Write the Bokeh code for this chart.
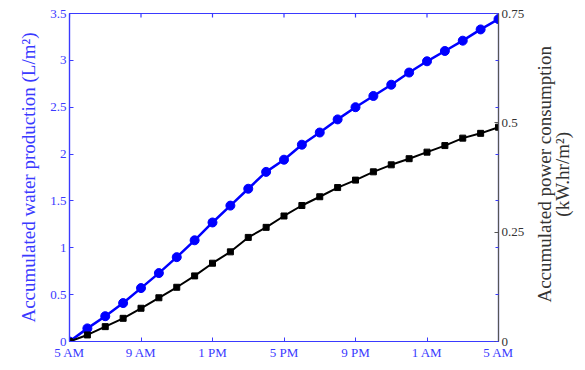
import math
from bokeh.plotting import figure
from bokeh.layouts import row
from bokeh.models import Range1d, LinearAxis, FixedTicker, ColumnDataSource
from bokeh.core.properties import value
from bokeh.embed import file_html
from bokeh.resources import INLINE

# ---- data ----
hours = list(range(25))  # hours after 5 AM
water = [0.00, 0.14, 0.27, 0.41, 0.57, 0.73, 0.90, 1.08, 1.27, 1.45,
         1.63, 1.81, 1.94, 2.10, 2.23, 2.37, 2.50, 2.62, 2.74, 2.87,
         2.99, 3.10, 3.21, 3.33, 3.44]
power = [0.000, 0.015, 0.034, 0.053, 0.076, 0.100, 0.124, 0.150, 0.179, 0.205,
         0.238, 0.261, 0.287, 0.311, 0.331, 0.352, 0.369, 0.388, 0.404, 0.418,
         0.433, 0.448, 0.465, 0.476, 0.490]
x_ticks = [0, 4, 8, 12, 16, 20, 24]
x_labels = ["5 AM", "9 AM", "1 PM", "5 PM", "9 PM", "1 AM", "5 AM"]
left_ticks = [0, 0.5, 1, 1.5, 2, 2.5, 3, 3.5]
left_labels = ["0", "0.5", "1", "1.5", "2", "2.5", "3", "3.5"]
right_ticks = [0, 0.25, 0.5, 0.75]
right_labels = ["0", "0.25", "0.5", "0.75"]
left_max = 3.5
right_max = 0.75
left_title = "Accumulated water production (L/m²)"
right_title = ["Accumulated power consumption", "(kW.hr/m²)"]

FONT = "Liberation Serif"
BLUE_AX = "#3a3aff"
TITLE_SIZE = "19px"

W, H = 528, 362          # main chart
W2 = 49                  # strip holding the right-hand title
BL, BR, BT, BB = 69, 30, 13, 20
p = figure(width=W, height=H, output_backend="svg", toolbar_location=None,
           x_range=Range1d(0, 24), y_range=Range1d(0, left_max),
           min_border_left=BL, min_border_right=BR, min_border_top=BT,
           min_border_bottom=BB)
p.extra_y_ranges = {"power": Range1d(0, right_max)}
p.grid.visible = False
p.outline_line_color = BLUE_AX
p.outline_line_width = 1.2
p.background_fill_color = "white"


def style(ax, color, label_color):
    ax.axis_line_color = color
    ax.axis_line_width = 1.2
    ax.major_tick_line_color = color
    ax.major_tick_in = 4
    ax.major_tick_out = 0
    ax.minor_tick_in = 0
    ax.minor_tick_out = 0
    ax.major_label_text_font = FONT
    ax.major_label_text_font_size = "13px"
    ax.major_label_text_color = label_color
    ax.major_label_standoff = 3
    ax.axis_label_text_font = FONT
    ax.axis_label_text_font_size = TITLE_SIZE
    ax.axis_label_text_font_style = "normal"


# bottom axis
xa = p.xaxis[0]
xa.ticker = FixedTicker(ticks=x_ticks)
xa.major_label_overrides = {t: l for t, l in zip(x_ticks, x_labels)}
style(xa, BLUE_AX, BLUE_AX)

# left axis
ya = p.yaxis[0]
ya.ticker = FixedTicker(ticks=left_ticks)
ya.major_label_overrides = {t: l for t, l in zip(left_ticks, left_labels)}
style(ya, BLUE_AX, BLUE_AX)
ya.axis_label = left_title
ya.axis_label_text_color = BLUE_AX
ya.axis_label_standoff = 8

# right axis
ra = LinearAxis(y_range_name="power",
                ticker=FixedTicker(ticks=right_ticks,
                                   minor_ticks=[v * right_max / left_max for v in left_ticks]))
style(ra, "#555555", "#333333")
ra.major_label_overrides = {t: l for t, l in zip(right_ticks, right_labels)}
ra.minor_tick_in = 3
ra.minor_tick_line_color = BLUE_AX
p.add_layout(ra, "right")

# top-edge ticks (inward), drawn at the x tick positions
frame_h = H - BT - BB
tick_len = 4 * left_max / frame_h
p.segment(x0=x_ticks, y0=[left_max] * len(x_ticks), x1=x_ticks,
          y1=[left_max - tick_len] * len(x_ticks), line_color=BLUE_AX, line_width=1.2)

# data
p.line(hours, water, line_color="#0000ff", line_width=2.5)
p.scatter(hours, water, marker="circle", size=9, fill_color="#0000ff", line_color="#0000ff")
p.line(hours, power, y_range_name="power", line_color="black", line_width=2)
p.scatter(hours, power, y_range_name="power", marker="square", size=6,
          fill_color="black", line_color="black")

# right-hand title strip: text reading bottom-to-top, two lines
t = figure(width=W2, height=H, output_backend="svg", toolbar_location=None,
           x_range=Range1d(0, W2), y_range=Range1d(0, H),
           x_axis_location=None, y_axis_location=None,
           min_border=0, min_border_left=0, min_border_right=0,
           min_border_top=0, min_border_bottom=0)
t.grid.visible = False
t.outline_line_color = None
src = ColumnDataSource(dict(x=[15.5 + 18 * i for i in range(len(right_title))],
                            y=[H - BT - frame_h / 2] * len(right_title),
                            text=right_title))
t.text(x="x", y="y", text="text", source=src, angle=math.pi / 2,
       text_align="center", text_baseline="middle",
       text_font=value(FONT), text_font_size=TITLE_SIZE, text_color="#333333")

layout = row(p, t, spacing=0)
open("out.html", "w").write(file_html(layout, INLINE))
